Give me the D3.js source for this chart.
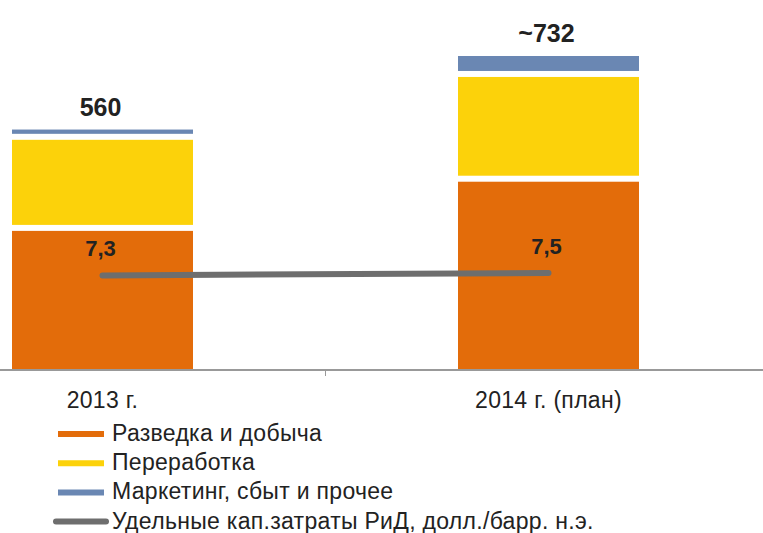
<!DOCTYPE html>
<html>
<head>
<meta charset="utf-8">
<script src="https://cdn.jsdelivr.net/npm/d3@7"></script>
<style>
  body { margin: 0; background: #fff; }
  svg { display: block; font-family: "Liberation Sans", Arial, sans-serif; }
</style>
</head>
<body>
<div id="chart"></div>
<script>
const categories = ["2013 г.", "2014 г. (план)"];
const seriesNames = ["Разведка и добыча", "Переработка", "Маркетинг, сбыт и прочее"];
const upstream = [330, 445];
const downstream = [213, 245];
const marketing = [17, 42];
const totalLabels = ["560", "~732"];
const unitCapex = [7.3, 7.5];
const unitCapexLabels = ["7,3", "7,5"];
const lineName = "Удельные кап.затраты РиД, долл./барр. н.э.";

const colors = ["#e36c0a", "#fcd20a", "#6a87b3"];
const lineColor = "#6e6e6e";
const textColor = "#222";

const width = 763, height = 533;
const baseY = 369;
const gap = 6;
const barW = 181;

var svg = d3.select("#chart").append("svg").attr("width", width).attr("height", height);

// bar centres
var x = d3.scalePoint().domain(categories).range([102.5, 548.5]);
var y = d3.scaleLinear().domain([0, 732]).range([baseY, 56]);
// hidden secondary axis for the unit capex line
var y2 = d3.scaleLinear().domain([0, 30]).range([363, 3]);

var stackData = categories.map((c, i) => ({ cat: c, 0: upstream[i], 1: downstream[i], 2: marketing[i] }));
var stacked = d3.stack().keys([0, 1, 2])(stackData);

stacked.forEach((layer, k) => {
    var last = k === stacked.length - 1;
    svg.append("g").selectAll("rect").data(layer).join("rect")
        .attr("x", d => x(d.data.cat) - barW / 2)
        .attr("width", barW)
        .attr("y", d => y(d[1]) + (last ? 0 : gap / 2))
        .attr("height", d => {
            var top = y(d[1]) + (last ? 0 : gap / 2);
            var bottom = k === 0 ? y(0) : y(d[0]) - gap / 2;
            return Math.max(0, bottom - top);
        })
        .attr("fill", colors[k]);
});

// total labels
svg.append("g").selectAll("text").data(categories).join("text")
    .attr("x", d => x(d) - 2)
    .attr("y", (d, i) => y(upstream[i] + downstream[i] + marketing[i]) - 14)
    .attr("text-anchor", "middle")
    .attr("font-size", 25)
    .attr("font-weight", "bold")
    .attr("fill", textColor)
    .text((d, i) => totalLabels[i]);

// axis
var axis = svg.append("g").attr("transform", "translate(0," + (baseY + 1) + ")");
var mid = (x(categories[0]) + x(categories[1])) / 2;
axis.append("line").attr("x1", 0).attr("x2", width).attr("stroke", "#999").attr("stroke-width", 2);
axis.append("line").attr("x1", mid).attr("x2", mid)
    .attr("y1", 0).attr("y2", 6).attr("stroke", "#999").attr("stroke-width", 1);
axis.selectAll("text.cat").data(categories).join("text")
    .attr("class", "cat")
    .attr("x", d => x(d))
    .attr("y", 38)
    .attr("text-anchor", "middle")
    .attr("font-size", 23)
    .attr("letter-spacing", 0.3)
    .attr("fill", textColor)
    .text(d => d);

// unit capex line
var line = d3.line().x((d, i) => x(categories[i])).y(d => y2(d));
svg.append("path")
    .attr("d", line(unitCapex))
    .attr("fill", "none")
    .attr("stroke", lineColor)
    .attr("stroke-width", 6)
    .attr("stroke-linecap", "round");

svg.append("g").selectAll("text").data(unitCapex).join("text")
    .attr("x", (d, i) => x(categories[i]) - 2)
    .attr("y", d => y2(d) - 19)
    .attr("text-anchor", "middle")
    .attr("font-size", 22)
    .attr("font-weight", "bold")
    .attr("fill", textColor)
    .text((d, i) => unitCapexLabels[i]);

// legend
var legendItems = seriesNames.map((n, i) => ({ name: n, color: colors[i], line: false }))
    .concat([{ name: lineName, color: lineColor, line: true }]);
var legend = svg.append("g");
var lg = legend.selectAll("g").data(legendItems).join("g")
    .attr("transform", (d, i) => "translate(0," + (434 + i * 29.2) + ")");
lg.append("line")
    .attr("x1", d => d.line ? 56 : 58)
    .attr("x2", d => d.line ? 106 : 104)
    .attr("stroke", d => d.color)
    .attr("stroke-width", 6)
    .attr("stroke-linecap", d => d.line ? "round" : "butt");
lg.append("text")
    .attr("x", 112)
    .attr("y", 7)
    .attr("font-size", 23)
    .attr("letter-spacing", 0.3)
    .attr("fill", textColor)
    .text(d => d.name);
</script>
</body>
</html>
